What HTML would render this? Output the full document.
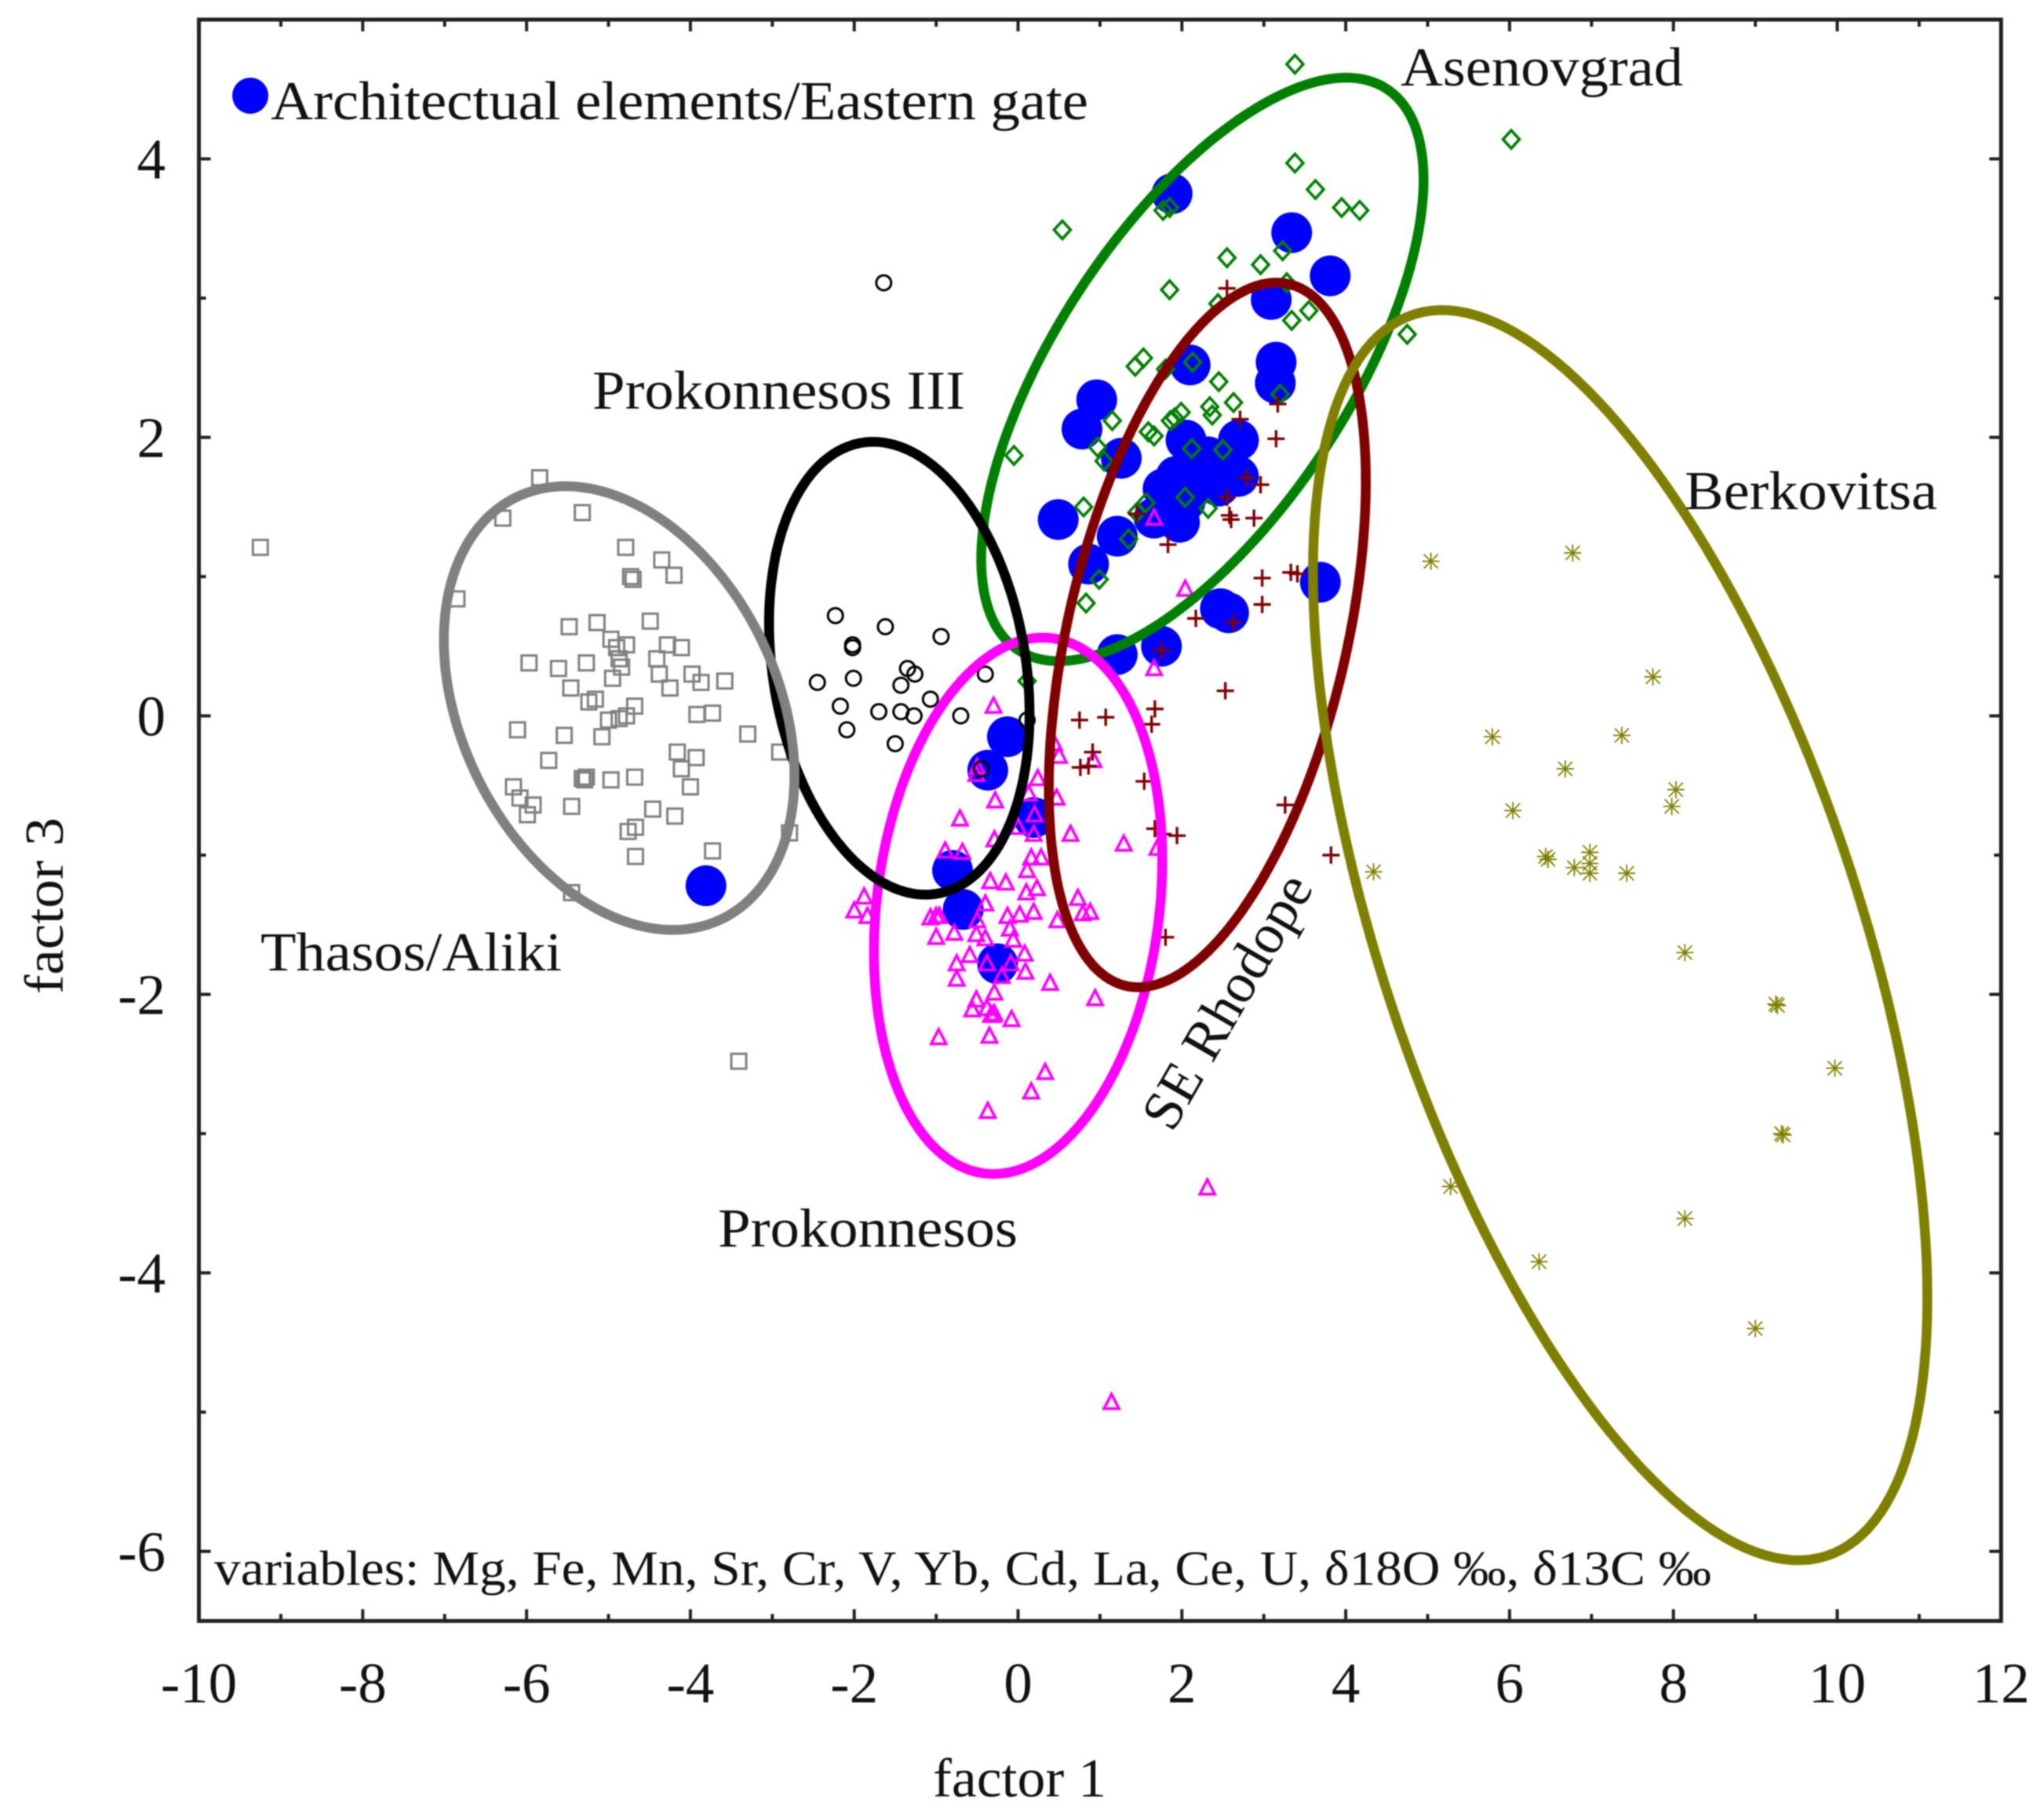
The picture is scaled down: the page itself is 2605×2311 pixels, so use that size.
<!DOCTYPE html>
<html lang="en">
<head>
<meta charset="utf-8">
<title>Factor 1 vs factor 3 scatter plot</title>
<style>
html,body{margin:0;padding:0;background:#fff;width:2605px;height:2311px;overflow:hidden}
svg{display:block;filter:blur(0.8px)}
text{font-family:"Liberation Serif",serif;fill:#111}
</style>
</head>
<body>
<svg id="chart" xmlns="http://www.w3.org/2000/svg" width="2605" height="2311" viewBox="0 0 2605 2311">
<rect x="0" y="0" width="2605" height="2311" fill="#fff"/>
<g id="blue"></g>
<g id="marks"></g>
<g id="ellipses"></g>
<g id="axes"></g>
<g>
<circle cx="319" cy="122" r="23" fill="#0000ff"/>
<text x="345" y="152" font-size="70" textLength="1042" lengthAdjust="spacingAndGlyphs">Architectual elements/Eastern gate</text>
<text x="1785" y="109" font-size="70" textLength="360" lengthAdjust="spacingAndGlyphs">Asenovgrad</text>
<text x="755" y="521" font-size="70" textLength="475" lengthAdjust="spacingAndGlyphs">Prokonnesos III</text>
<text x="2147" y="649" font-size="70" textLength="322" lengthAdjust="spacingAndGlyphs">Berkovitsa</text>
<text x="332" y="1237" font-size="70" textLength="384" lengthAdjust="spacingAndGlyphs">Thasos/Aliki</text>
<text x="915" y="1589" font-size="70" textLength="382" lengthAdjust="spacingAndGlyphs">Prokonnesos</text>
<text transform="translate(1494 1445) rotate(-60)" font-size="72" textLength="362" lengthAdjust="spacingAndGlyphs">SE Rhodope</text>
<text x="273" y="2020" font-size="62" textLength="1908" lengthAdjust="spacingAndGlyphs">variables: Mg, Fe, Mn, Sr, Cr, V, Yb, Cd, La, Ce, U, δ18O ‰, δ13C ‰</text>
<text x="1189" y="2290" font-size="70" textLength="221" lengthAdjust="spacingAndGlyphs">factor 1</text>
<text transform="translate(80 1267) rotate(-90)" font-size="70" textLength="225" lengthAdjust="spacingAndGlyphs">factor 3</text>
</g>
</svg>
<script>
const xTickLabels = [-10,-8,-6,-4,-2,0,2,4,6,8,10,12];
const yTickLabels = [4,2,0,-2,-4,-6];
const xMinorTicks = [-9,-7,-5,-3,-1,1,3,5,7,9,11];
const yMinorTicks = [3,1,-1,-3,-5];
const xDomain = [-10,12];
const yDomain = [-6.5,5];

const thasosX = [-9.25,-5.84,-6.29,-5.32,-6.85,-4.79,-4.35,-4.20,-4.73,-4.70,-5.48,-5.14,-4.49,-4.97,-4.78,-4.90,-4.28,-4.11,-4.87,-4.84,-5.97,-5.27,-4.41,-4.38,-3.98,-3.58,-3.87,-5.61,-4.95,-5.46,-5.16,-5.24,-4.25,-4.68,-4.78,-4.87,-5.00,-3.92,-3.73,-6.11,-5.54,-5.08,-3.30,-2.91,-4.16,-3.93,-4.11,-5.73,-5.32,-5.27,-5.29,-4.68,-4.97,-4.00,-6.16,-6.08,-5.92,-5.99,-5.45,-4.46,-4.19,-4.67,-4.76,-3.73,-4.67,-2.79,-5.45,-3.41];
const thasosY = [1.21,1.71,1.42,1.46,0.84,1.21,1.12,1.01,1.00,0.98,0.64,0.67,0.68,0.55,0.51,0.49,0.51,0.49,0.41,0.35,0.38,0.38,0.41,0.30,0.30,0.25,0.24,0.34,0.27,0.20,0.12,0.10,0.20,0.07,0.00,-0.02,-0.03,0.01,0.02,-0.10,-0.14,-0.15,-0.13,-0.26,-0.26,-0.30,-0.38,-0.32,-0.45,-0.44,-0.46,-0.44,-0.46,-0.51,-0.51,-0.59,-0.64,-0.71,-0.65,-0.67,-0.72,-0.80,-0.83,-0.97,-1.01,-0.84,-1.27,-2.48];

const prok3X = [-1.64,-2.23,-2.02,-2.02,-1.62,-0.94,-1.35,-1.26,-1.43,-2.01,-2.45,-2.17,-2.09,-1.70,-1.43,-1.27,-1.07,-0.70,-1.50,-0.40,-0.45,0.11];
const prok3Y = [3.11,0.72,0.51,0.49,0.64,0.57,0.34,0.30,0.22,0.27,0.24,0.07,-0.10,0.03,0.03,0.00,0.12,0.00,-0.20,0.30,-0.38,-0.03];

const asenovgradX = [3.38,6.02,3.38,3.63,3.95,4.17,0.54,1.77,1.85,2.55,2.96,3.23,3.28,1.85,2.44,3.55,3.34,4.75,1.53,1.43,1.80,2.13,3.20,2.45,2.63,2.34,2.37,1.99,1.91,1.86,1.15,1.59,1.66,0.97,-0.05,1.05,2.12,2.50,0.80,1.45,1.56,2.04,2.32,1.35,0.99,0.83,0.11];
const asenovgradY = [4.68,4.14,3.97,3.78,3.65,3.63,3.49,3.63,3.65,3.29,3.24,3.34,3.11,3.06,2.96,2.91,2.84,2.74,2.57,2.51,2.49,2.54,2.31,2.40,2.25,2.22,2.16,2.18,2.14,2.12,2.12,2.04,2.01,1.93,1.87,1.83,1.92,1.91,1.50,1.46,1.53,1.57,1.49,1.27,0.98,0.81,0.25];

const rhodopeX = [3.17,3.15,2.71,2.79,2.96,2.55,2.58,2.60,2.88,1.45,1.83,2.98,3.33,3.41,2.98,2.17,2.63,1.75,2.53,2.55,0.75,1.07,1.67,1.63,0.91,0.86,0.76,1.54,1.67,1.77,1.94,1.80,3.26,3.82];
const rhodopeY = [2.24,1.99,2.13,1.71,1.66,1.57,1.44,1.41,1.42,1.45,1.23,0.99,1.03,1.02,0.80,0.70,0.67,0.47,0.18,3.07,-0.03,-0.01,0.05,-0.06,-0.26,-0.36,-0.37,-0.47,-0.81,-0.85,-0.86,-1.59,-0.64,-1.00];

const berkovitsaX = [5.04,6.77,7.75,5.79,7.37,6.68,8.03,7.98,6.04,4.34,6.44,6.47,6.79,6.98,6.98,6.98,7.43,8.14,9.25,9.27,9.97,9.32,9.34,5.28,8.14,6.36,9.00];
const berkovitsaY = [1.11,1.17,0.28,-0.15,-0.14,-0.38,-0.53,-0.65,-0.68,-1.12,-1.01,-1.03,-1.09,-0.98,-1.06,-1.13,-1.13,-1.70,-2.07,-2.08,-2.53,-3.00,-3.01,-3.38,-3.61,-3.92,-4.40];

const prokonnesosX = [-0.30,1.66,0.44,0.50,0.92,-0.50,-0.51,0.24,0.13,0.47,-0.28,0.20,-0.71,0.00,0.19,0.64,1.29,1.70,-0.29,-0.89,-0.68,0.16,0.28,0.11,-0.34,-0.15,0.23,0.10,-1.88,0.73,-0.40,-2.00,-1.84,-1.00,-1.07,-0.96,-0.13,0.02,0.19,0.48,0.79,0.88,-0.50,-0.10,-0.78,-0.51,-0.40,-1.00,-0.06,0.08,-0.59,-0.75,-0.38,-0.09,-0.20,0.09,-0.75,0.39,0.94,-0.29,-0.51,-0.56,-0.38,-0.31,-0.29,-0.33,-0.08,-0.97,-0.35,-0.37,0.33,0.16,2.31,1.14,1.66,2.04];
const prokonnesosY = [0.07,0.34,-0.20,-0.29,-0.32,-0.37,-0.42,-0.45,-0.56,-0.59,-0.61,-0.71,-0.74,-0.80,-0.85,-0.85,-0.92,-0.95,-0.89,-0.97,-0.98,-1.02,-1.02,-1.11,-1.19,-1.20,-1.24,-1.27,-1.30,-1.31,-1.35,-1.40,-1.44,-1.44,-1.45,-1.44,-1.44,-1.43,-1.41,-1.47,-1.42,-1.41,-1.47,-1.53,-1.56,-1.57,-1.60,-1.59,-1.61,-1.71,-1.72,-1.78,-1.78,-1.78,-1.87,-1.84,-1.89,-1.92,-2.03,-1.99,-2.04,-2.11,-2.10,-2.15,-2.14,-2.15,-2.18,-2.31,-2.30,-2.84,-2.56,-2.70,-3.39,-4.93,1.42,0.91];

const elementsX = [1.88,3.34,3.81,3.09,3.15,3.14,2.10,0.96,0.78,1.26,0.49,1.21,0.86,2.05,2.69,2.69,2.32,1.93,1.77,2.25,1.97,1.66,2.04,2.45,2.47,2.57,3.69,1.21,1.75,-0.13,-0.37,0.19,-0.80,-0.67,-0.25,-3.81];
const elementsY = [3.75,3.47,3.16,2.99,2.54,2.39,2.52,2.27,2.06,1.85,1.41,1.29,1.09,1.98,1.98,1.72,1.86,1.72,1.63,1.69,1.39,1.42,1.54,1.65,0.77,0.74,0.96,0.44,0.50,-0.15,-0.39,-0.73,-1.11,-1.39,-1.78,-1.22];

const ellipseNames = ['asenovgrad','prokonnesos','prokonnesos-iii','se-rhodope','berkovitsa','thasos-aliki'];
const ellipseColors = ['#008000','#ff00ff','#000000','#800000','#808000','#808080'];
const ellipseCenterX = [2.25,0.00,-1.45,2.31,7.35,-4.87];
const ellipseCenterY = [2.488,-1.364,0.342,0.581,-1.575,0.056];
const ellipseSpreadX = [2.70,1.76,1.59,1.935,3.75,2.14];
const ellipseSpreadY = [2.095,1.926,1.626,2.53,4.489,1.593];
const ellipseCorrelation = [0.65,0.17,-0.2,0.436,-0.58,-0.306];

const SVGNS = 'http://www.w3.org/2000/svg';
function xScale(v){ return 1297.5 + 104.4 * v; }
function yScale(v){ return 912.5 - 177.5 * v; }
function make(tag, parent){
  const el = document.createElementNS(SVGNS, tag);
  parent.appendChild(el);
  return el;
}
const blueGroup = document.getElementById('blue');
const marksGroup = document.getElementById('marks');
const ellipseGroup = document.getElementById('ellipses');
const axesGroup = document.getElementById('axes');

elementsX.forEach(function(v, i){
  const c = make('circle', blueGroup);
  c.setAttribute('cx', xScale(v));
  c.setAttribute('cy', yScale(elementsY[i]));
  c.setAttribute('r', 26);
  c.setAttribute('fill', '#0000ff');
  
  
});

function outlinePath(cx, cy, kind){
  if (kind === 'square') return 'M'+(cx-9.5)+' '+(cy-9.5)+'h19v19h-19z';
  if (kind === 'diamond') return 'M'+cx+' '+(cy-11.5)+'L'+(cx+10.5)+' '+cy+'L'+cx+' '+(cy+11.5)+'L'+(cx-10.5)+' '+cy+'z';
  if (kind === 'triangle') return 'M'+cx+' '+(cy-10.5)+'L'+(cx+9.5)+' '+(cy+8)+'H'+(cx-9.5)+'z';
  if (kind === 'plus') return 'M'+(cx-11)+' '+cy+'H'+(cx+11)+'M'+cx+' '+(cy-11)+'V'+(cy+11);
  if (kind === 'star') return 'M'+(cx-11)+' '+cy+'H'+(cx+11)+'M'+cx+' '+(cy-11)+'V'+(cy+11)+'M'+(cx-9)+' '+(cy-9)+'L'+(cx+9)+' '+(cy+9)+'M'+(cx-9)+' '+(cy+9)+'L'+(cx+9)+' '+(cy-9);
  return '';
}

thasosX.forEach(function(v, i){
  const p = make('path', marksGroup);
  p.setAttribute('d', outlinePath(xScale(v), yScale(thasosY[i]), 'square'));
  p.setAttribute('fill', 'none');
  p.setAttribute('stroke', '#808080');
  p.setAttribute('stroke-width', 3);
  
  
});
berkovitsaX.forEach(function(v, i){
  const p = make('path', marksGroup);
  p.setAttribute('d', outlinePath(xScale(v), yScale(berkovitsaY[i]), 'star'));
  p.setAttribute('fill', 'none');
  p.setAttribute('stroke', '#808000');
  p.setAttribute('stroke-width', 1.8);
  
  
});
asenovgradX.forEach(function(v, i){
  const p = make('path', marksGroup);
  p.setAttribute('d', outlinePath(xScale(v), yScale(asenovgradY[i]), 'diamond'));
  p.setAttribute('fill', 'none');
  p.setAttribute('stroke', '#008000');
  p.setAttribute('stroke-width', 3.6);
  
  
});
prokonnesosX.forEach(function(v, i){
  const p = make('path', marksGroup);
  p.setAttribute('d', outlinePath(xScale(v), yScale(prokonnesosY[i]), 'triangle'));
  p.setAttribute('fill', 'none');
  p.setAttribute('stroke', '#ff00ff');
  p.setAttribute('stroke-width', 3.6);
  
  
});
prok3X.forEach(function(v, i){
  const c = make('circle', marksGroup);
  c.setAttribute('cx', xScale(v));
  c.setAttribute('cy', yScale(prok3Y[i]));
  c.setAttribute('r', 9.5);
  c.setAttribute('fill', 'none');
  c.setAttribute('stroke', '#000');
  c.setAttribute('stroke-width', 3);
  
  
});
rhodopeX.forEach(function(v, i){
  const p = make('path', marksGroup);
  p.setAttribute('d', outlinePath(xScale(v), yScale(rhodopeY[i]), 'plus'));
  p.setAttribute('fill', 'none');
  p.setAttribute('stroke', '#800000');
  p.setAttribute('stroke-width', 3.4);
  
  
});

ellipseNames.forEach(function(name, i){
  const phi = Math.acos(ellipseCorrelation[i]);
  let d = '';
  for (let k = 0; k < 180; k++) {
    const t = k / 180 * 2 * Math.PI;
    const px = xScale(ellipseCenterX[i] + ellipseSpreadX[i] * Math.cos(t));
    const py = yScale(ellipseCenterY[i] + ellipseSpreadY[i] * Math.cos(t - phi));
    d += (k ? 'L' : 'M') + px.toFixed(1) + ' ' + py.toFixed(1);
  }
  const p = make('path', ellipseGroup);
  p.setAttribute('d', d + 'z');
  p.setAttribute('fill', 'none');
  p.setAttribute('stroke', ellipseColors[i]);
  p.setAttribute('stroke-width', 12.5);
  
  
});

const frameEl = make('rect', axesGroup);
frameEl.setAttribute('x', xScale(xDomain[0]));
frameEl.setAttribute('y', yScale(yDomain[1]));
frameEl.setAttribute('width', xScale(xDomain[1]) - xScale(xDomain[0]));
frameEl.setAttribute('height', yScale(yDomain[0]) - yScale(yDomain[1]));
frameEl.setAttribute('fill', 'none');
frameEl.setAttribute('stroke', '#222');
frameEl.setAttribute('stroke-width', 5);



function tickPath(v, horizontal, len){
  if (horizontal) {
    const x = xScale(v), y0 = yScale(yDomain[0]), y1 = yScale(yDomain[1]);
    return 'M'+x+' '+y0+'v'+(-len)+'M'+x+' '+y1+'v'+len;
  }
  const y = yScale(v), x0 = xScale(xDomain[0]), x1 = xScale(xDomain[1]);
  return 'M'+x0+' '+y+'h'+len+'M'+x1+' '+y+'h'+(-len);
}
function addTick(v, horizontal, len){
  const p = make('path', axesGroup);
  p.setAttribute('d', tickPath(v, horizontal, len));
  p.setAttribute('stroke', '#222');
  p.setAttribute('stroke-width', 4);
  p.setAttribute('fill', 'none');
  
  
}
xTickLabels.forEach(function(v){ addTick(v, true, 15); });
xMinorTicks.forEach(function(v){ addTick(v, true, 9); });
yTickLabels.forEach(function(v){ addTick(v, false, 15); });
yMinorTicks.forEach(function(v){ addTick(v, false, 9); });

xTickLabels.forEach(function(v){
  const t = make('text', axesGroup);
  t.setAttribute('x', xScale(v));
  t.setAttribute('y', 2170);
  t.setAttribute('font-size', 73);
  t.setAttribute('text-anchor', 'middle');
  
  
  t.textContent = String(v);
});
yTickLabels.forEach(function(v){
  const t = make('text', axesGroup);
  t.setAttribute('x', 211);
  t.setAttribute('y', yScale(v) + 25);
  t.setAttribute('font-size', 73);
  t.setAttribute('text-anchor', 'end');
  
  
  t.textContent = String(v);
});
</script>
</body>
</html>
